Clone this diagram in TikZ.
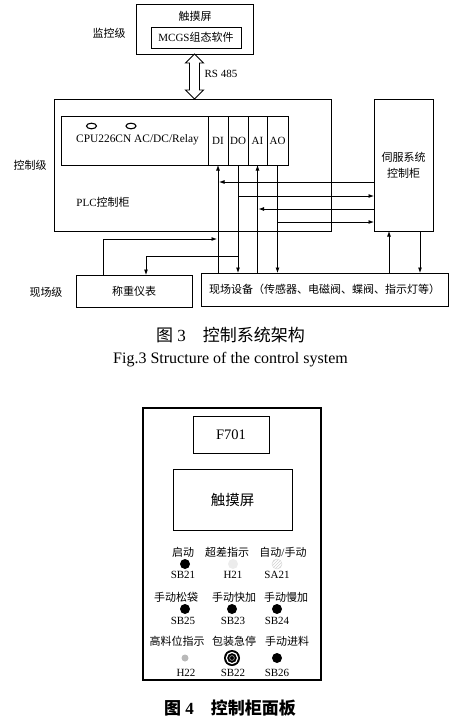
\documentclass[tikz,border=0pt]{standalone}
\usepackage{fontspec}
\setmainfont{Liberation Serif}
\newfontfamily\cjk{Noto Sans CJK SC}
\usetikzlibrary{arrows.meta,patterns}
\begin{document}
\begin{tikzpicture}[x=1pt,y=-1pt,
  box/.style={draw, line width=1pt, inner sep=0pt, outer sep=0pt, anchor=north west, font=\fontsize{11}{13}\selectfont},
  lbl/.style={inner sep=0pt, font=\fontsize{11}{13}\selectfont},
  plbl/.style={inner sep=0pt, font=\fontsize{11}{13}\selectfont},
  arr/.style={line width=0.85pt, -{Latex[length=5.5pt,width=4pt]}},
  ln/.style={line width=0.85pt},
  btn/.style={circle, fill=black, minimum size=10pt, inner sep=0pt},
]
\useasboundingbox (0,0) rectangle (467,721);

% ---------- Fig. 3 ----------
\node[box, minimum width=117pt, minimum height=50pt] (ts) at (136,4) {};
\node[lbl] (tst) at (195,16) {\cjk 触摸屏};
\node[box, minimum width=90pt, minimum height=21pt] (mcgs) at (151,27) {MCGS{\cjk 组态软件}};
\node[lbl] (l1) at (109,33) {\cjk 监控级};

\node[box, minimum width=277pt, minimum height=132pt] (plc) at (54,99) {};
\node[box, minimum width=147pt, minimum height=49pt] (cpu) at (61,116) {};
\node[box, minimum width=20pt, minimum height=49pt] (di) at (208,116) {DI};
\node[box, minimum width=20pt, minimum height=49pt] (do) at (228,116) {DO};
\node[box, minimum width=19pt, minimum height=49pt] (ai) at (248,116) {AI};
\node[box, minimum width=21pt, minimum height=49pt] (ao) at (267,116) {AO};
\node[lbl, font=\fontsize{11.4}{13}\selectfont] (cput) at (137.5,140) {CPU226CN AC/DC/Relay};
\draw[line width=1.1pt] (91.5,126) ellipse (5pt and 2.8pt);
\draw[line width=1.1pt] (131,126) ellipse (5pt and 2.8pt);
\node[lbl] (plct) at (103,202) {PLC{\cjk 控制柜}};
\node[lbl] (l2) at (30,165) {\cjk 控制级};

\node[box, minimum width=59pt, minimum height=132pt] (servo) at (374,99) {};
\node[lbl, align=center, font=\fontsize{11}{16}\selectfont] (servot) at (403.5,165) {{\cjk 伺服系统}\\{\cjk 控制柜}};

\node[box, minimum width=116pt, minimum height=32pt] (wt) at (76,275) {\cjk 称重仪表};
\node[box, minimum width=247pt, minimum height=33pt] (fd) at (201,273) {\cjk 现场设备（传感器、电磁阀、蝶阀、指示灯等）};
\node[lbl] (l3) at (46,292) {\cjk 现场级};

% RS485 double arrow
\path (ts.south) coordinate (at) (ts.south |- plc.north) coordinate (ab);
\draw[ln, fill=white] (at) -- ([shift={(9,9)}]at) -- ([shift={(5,9)}]at) -- ([shift={(5,-9)}]ab) -- ([shift={(9,-9)}]ab) -- (ab) -- ([shift={(-9,-9)}]ab) -- ([shift={(-5,-9)}]ab) -- ([shift={(-5,9)}]at) -- ([shift={(-9,9)}]at) -- cycle;
\node[lbl] (rs) at (221,74) {RS 485};

% helper coordinates
\coordinate (h1) at (0,182);
\coordinate (h2) at (0,196);
\coordinate (h3) at (0,209);
\coordinate (h4) at (0,222);
\coordinate (h5) at (0,239);
\coordinate (h6) at (0,256);
\coordinate (c1) at (103,0);
\coordinate (c2) at (146,0);
\coordinate (c3) at (389,0);
\coordinate (c4) at (420,0);

\draw[arr] (fd.north -| di.south) -- (di.south);
\draw[arr] (do.south) -- (fd.north -| do.south);
\draw[arr] (fd.north -| ai.south) -- (ai.south);
\draw[arr] (ao.south) -- (fd.north -| ao.south);

\draw[arr] (servo.west |- h1) -- ([xshift=1pt]di.south |- h1);
\draw[arr] (do.south |- h2) -- (servo.west |- h2);
\draw[arr] (servo.west |- h3) -- ([xshift=1pt]ai.south |- h3);
\draw[arr] (ao.south |- h4) -- (servo.west |- h4);

\draw[arr] (wt.north -| c1) |- ([xshift=-1pt]di.south |- h5);
\draw[arr] (do.south |- h6) -| (wt.north -| c2);

\draw[arr] (fd.north -| c3) -- (servo.south -| c3);
\draw[arr] (servo.south -| c4) -- (fd.north -| c4);

\node[inner sep=0pt, font=\fontsize{17}{20}\selectfont] (cap3) at (230.5,335) {{\cjk 图}~3\quad{\cjk 控制系统架构}};
\node[inner sep=0pt, font=\fontsize{16}{19}\selectfont] (cap3e) at (230.5,360) {Fig.3 Structure of the control system};

% ---------- Fig. 4 ----------
\node[box, line width=1.2pt, minimum width=178pt, minimum height=272pt] (panel) at (143,408) {};
\node[box, minimum width=76pt, minimum height=37pt, font=\fontsize{14.5}{16}\selectfont] (f701) at (193,416) {F701};
\node[box, minimum width=119pt, minimum height=61pt, font=\fontsize{14.5}{16}\selectfont] (tp) at (173,469) {\cjk 触摸屏};

% row 1
\node[plbl] (t1) at (183,552) {\cjk 启动};
\node[plbl] (t2) at (227,552) {\cjk 超差指示};
\node[plbl] (t3) at (283,552) {{\cjk 自动}/{\cjk 手动}};
\node[btn] (sb21) at (185,564) {};
\node[circle, fill=gray!15, minimum size=10pt, inner sep=0pt] (h21) at (233,564) {};
\node[circle, draw=gray!30, line width=0.5pt, pattern=north east lines, pattern color=gray!35, minimum size=10pt, inner sep=0pt] (sa21) at (277,564) {};
\node[plbl] (n1) at (183,575) {SB21};
\node[plbl] (n2) at (233,575) {H21};
\node[plbl] (n3) at (277,575) {SA21};

% row 2
\node[plbl] (t4) at (176,597) {\cjk 手动松袋};
\node[plbl] (t5) at (234,597) {\cjk 手动快加};
\node[plbl] (t6) at (286,597) {\cjk 手动慢加};
\node[btn] (sb25) at (185,609) {};
\node[btn] (sb23) at (232,609) {};
\node[btn] (sb24) at (277,609) {};
\node[plbl] (n4) at (183,621) {SB25};
\node[plbl] (n5) at (233,621) {SB23};
\node[plbl] (n6) at (277,621) {SB24};

% row 3
\node[plbl] (t7) at (177,641) {\cjk 高料位指示};
\node[plbl] (t8) at (234,641) {\cjk 包装急停};
\node[plbl] (t9) at (287,641) {\cjk 手动进料};
\node[circle, fill=gray!55, minimum size=7pt, inner sep=0pt] (h22) at (185,658) {};
\node[circle, fill=black, minimum size=16pt, inner sep=0pt] (sb22) at (232,658) {};
\draw[white, line width=1.2pt] (sb22.center) circle (5.6pt);
\draw[gray!60, line width=0.6pt] (sb22.center) circle (2.4pt);
\node[btn] (sb26) at (277,658) {};
\node[plbl] (n7) at (186,673) {H22};
\node[plbl] (n8) at (233,673) {SB22};
\node[plbl] (n9) at (277,673) {SB26};

\node[inner sep=0pt, font=\fontsize{17}{20}\selectfont\bfseries] (cap4) at (230,708) {{\cjk 图}~4\quad{\cjk 控制柜面板}};
\end{tikzpicture}
\end{document}
